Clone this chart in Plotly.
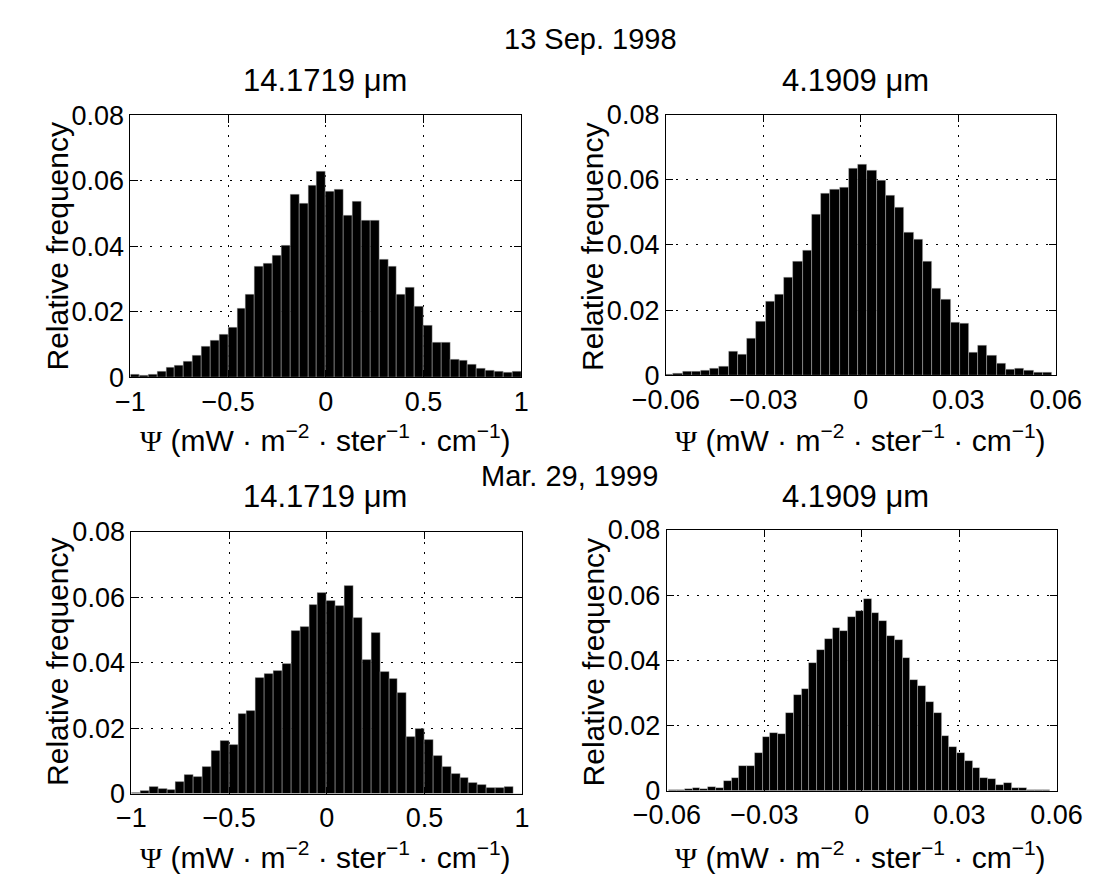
import plotly.graph_objects as go

# ---------------- data ----------------
# 14.1719 um channel: 44 bins over [-1, 1]
bins14_start = -1.0
bins14_width = 2.0 / 44
freq_sep_14 = [0.0008, 0.0005, 0.0008, 0.0017, 0.0031, 0.0037, 0.0047, 0.0067, 0.0094, 0.0114,
               0.0130, 0.0151, 0.0209, 0.0253, 0.0340, 0.0348, 0.0372, 0.0403, 0.0560, 0.0530,
               0.0585, 0.0629, 0.0567, 0.0575, 0.0493, 0.0538, 0.0480, 0.0478, 0.0360, 0.0340,
               0.0252, 0.0275, 0.0217, 0.0157, 0.0107, 0.0105, 0.0056, 0.0051, 0.0039, 0.0028,
               0.0022, 0.0019, 0.0014, 0.0018]
freq_mar_14 = [0.0003, 0.0008, 0.0020, 0.0015, 0.0012, 0.0035, 0.0059, 0.0052, 0.0081, 0.0130,
               0.0160, 0.0149, 0.0244, 0.0252, 0.0354, 0.0367, 0.0376, 0.0398, 0.0498, 0.0511,
               0.0578, 0.0614, 0.0588, 0.0574, 0.0634, 0.0536, 0.0408, 0.0491, 0.0373, 0.0352,
               0.0308, 0.0174, 0.0197, 0.0163, 0.0115, 0.0081, 0.0061, 0.0049, 0.0033, 0.0028,
               0.0018, 0.0018, 0.0020, 0.0000]

# 4.1909 um channel, 13 Sep. 1998: 42 bins
sep4_start = -0.0606
sep4_width = 0.002845
freq_sep_4 = [0.0003, 0.0006, 0.0011, 0.0012, 0.0015, 0.0020, 0.0026, 0.0074, 0.0065, 0.0113,
              0.0166, 0.0225, 0.0249, 0.0299, 0.0350, 0.0382, 0.0494, 0.0559, 0.0569, 0.0575,
              0.0634, 0.0648, 0.0628, 0.0597, 0.0553, 0.0516, 0.0438, 0.0418, 0.0348, 0.0267,
              0.0233, 0.0163, 0.0160, 0.0071, 0.0091, 0.0061, 0.0035, 0.0018, 0.0021, 0.0014,
              0.0008, 0.0008]

# 4.1909 um channel, Mar. 29, 1999: 49 bins
mar4_start = -0.0593
mar4_width = 0.002395
freq_mar_4 = [0.0002, 0.0003, 0.0005, 0.0010, 0.0005, 0.0013, 0.0008, 0.0030, 0.0040, 0.0075,
              0.0075, 0.0117, 0.0165, 0.0178, 0.0175, 0.0240, 0.0293, 0.0313, 0.0393, 0.0433,
              0.0467, 0.0499, 0.0489, 0.0532, 0.0551, 0.0588, 0.0545, 0.0520, 0.0476, 0.0464,
              0.0408, 0.0340, 0.0322, 0.0272, 0.0240, 0.0168, 0.0135, 0.0115, 0.0092, 0.0071,
              0.0040, 0.0035, 0.0018, 0.0025, 0.0010, 0.0008, 0.0003, 0.0004, 0.0004]

x14_ticks = [-1, -0.5, 0, 0.5, 1]
x14_labels = ["\u22121", "\u22120.5", "0", "0.5", "1"]
x4_ticks = [-0.06, -0.03, 0, 0.03, 0.06]
x4_labels = ["\u22120.06", "\u22120.03", "0", "0.03", "0.06"]
y_ticks = [0, 0.02, 0.04, 0.06, 0.08]
y_labels = ["0", "0.02", "0.04", "0.06", "0.08"]

date_titles = ["13 Sep. 1998", "Mar. 29, 1999"]
chan_titles = ["14.1719 \u03bcm", "4.1909 \u03bcm"]
x_title = ("<span style=\"font-family:'Liberation Serif', 'DejaVu Serif', serif\">\u03a8</span>"
           " (mW \u00b7 m<sup>\u22122</sup> \u00b7 ster<sup>\u22121</sup> \u00b7 cm<sup>\u22121</sup>)")
y_title = "Relative frequency"

FONT = "Liberation Sans, Arial, Helvetica, sans-serif"

# ---------------- figure ----------------
W, H = 1111, 886
fig = go.Figure()

def centers(start, width, n):
    return [start + (i + 0.5) * width for i in range(n)]

panels = [
    (freq_sep_14, bins14_start, bins14_width, "x", "y"),
    (freq_sep_4, sep4_start, sep4_width, "x2", "y2"),
    (freq_mar_14, bins14_start, bins14_width, "x3", "y3"),
    (freq_mar_4, mar4_start, mar4_width, "x4", "y4"),
]
for vals, st, wd, xa, ya in panels:
    fig.add_trace(go.Bar(
        x=centers(st, wd, len(vals)), y=vals, width=wd,
        marker=dict(color="black", line=dict(color="rgba(200,200,200,0.7)", width=0.6)),
        xaxis=xa, yaxis=ya, showlegend=False, hoverinfo="skip"))

def px_x(a, b):
    return [a / W, b / W]

def px_y(top, bottom):
    return [1 - bottom / H, 1 - top / H]

dom = {
    1: (px_x(102, 515), px_y(104, 375)),
    2: (px_x(668, 1080), px_y(103, 373)),
    3: (px_x(103, 516), px_y(535, 806)),
    4: (px_x(669, 1081), px_y(533, 803)),
}

axis_common = dict(showline=True, linecolor="black", linewidth=1.2, mirror="ticks",
                   ticks="inside", ticklen=7, tickcolor="black", tickwidth=1.2,
                   showgrid=True, gridcolor="black", griddash="2px,8px", gridwidth=1.3,
                   zeroline=False, tickfont=dict(family=FONT, size=27, color="black"))

layout_axes = {}
for i in range(1, 5):
    xs = "xaxis" if i == 1 else f"xaxis{i}"
    ys = "yaxis" if i == 1 else f"yaxis{i}"
    is14 = i in (1, 3)
    layout_axes[xs] = dict(axis_common, domain=dom[i][0], anchor=("y" if i == 1 else f"y{i}"),
                           range=[-1, 1] if is14 else [-0.06, 0.06],
                           tickvals=x14_ticks if is14 else x4_ticks,
                           ticktext=x14_labels if is14 else x4_labels)
    layout_axes[ys] = dict(axis_common, domain=dom[i][1], anchor=("x" if i == 1 else f"x{i}"),
                           range=[0, 0.08], tickvals=y_ticks, ticktext=y_labels)

fig.update_layout(width=W, height=H, margin=dict(l=0, r=0, t=0, b=0),
                  paper_bgcolor="white", plot_bgcolor="white", bargap=0,
                  font=dict(family=FONT, color="black"), **layout_axes)

def ann(text, xp, yp, size, angle=0):
    fig.add_annotation(text=text, x=xp / W, y=1 - yp / H, xref="paper", yref="paper",
                       showarrow=False, textangle=angle, xanchor="center", yanchor="middle",
                       font=dict(family=FONT, size=size, color="black"))

# date titles
ann(date_titles[0], 588, 25, 29)
ann(date_titles[1], 566, 477, 29)
# channel titles
for row_top in (104, 534):
    ann(chan_titles[0], 308, row_top - 36, 31)
    ann(chan_titles[1], 868, row_top - 36, 31)
# x titles
for row_bot in (375, 806):
    ann(x_title, 308, row_bot + 63, 30)
    ann(x_title, 874, row_bot + 63, 30)
# y titles
for row_mid in (240, 670):
    ann(y_title, 25, row_mid, 30, -90)
    ann(y_title, 591, row_mid, 30, -90)

fig.write_html("out.html")
